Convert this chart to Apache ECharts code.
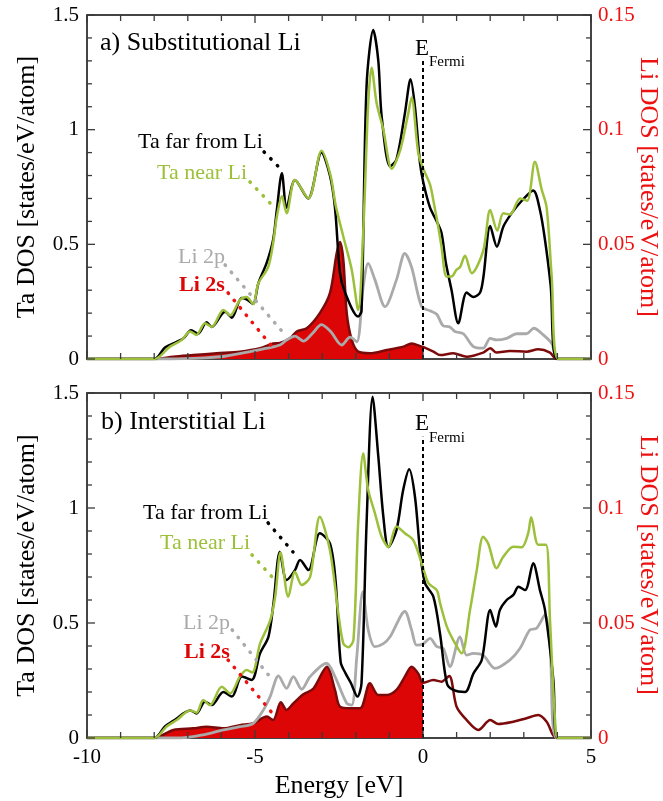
<!DOCTYPE html>
<html>
<head>
<meta charset="utf-8">
<title>Ta / Li density of states</title>
<script src="https://cdn.jsdelivr.net/npm/echarts@6/dist/echarts.min.js"></script>
<style>
  html, body { margin: 0; padding: 0; background: #fff; }
  #chart { width: 663px; height: 801px; background: #fff; }
</style>
</head>
<body>
<div id="chart"></div>
<script>
// ---- Energy axis and tick labels ----
const energyRange = [-10, 5];
const energyMinorStep = 1;
const taTicks = [0, 0.5, 1, 1.5];
const taMinorStep = 0.1;
const liTicks = [0, 0.05, 0.1, 0.15];
const fermiEnergy = 0;
const fermiTop = 1.31;

// ---- a) Substitutional Li : [energy (eV), DOS] ----
const subTaFar = [[-10,0],[-8,0],[-7.68,0.05],[-7.33,0.075],[-7.13,0.09],[-6.9,0.125],[-6.7,0.11],[-6.44,0.16],[-6.29,0.14],[-5.89,0.206],[-5.69,0.18],[-5.4,0.266],[-5.25,0.26],[-5.06,0.24],[-4.9,0.33],[-4.65,0.42],[-4.46,0.52],[-4.35,0.65],[-4.2,0.81],[-4.06,0.66],[-3.81,0.78],[-3.42,0.70],[-3.02,0.90],[-2.77,0.80],[-2.62,0.66],[-2.47,0.375],[-2.32,0.29],[-1.93,0.185],[-1.83,0.21],[-1.68,1.19],[-1.48,1.435],[-1.33,1.30],[-1.23,1.057],[-0.98,0.84],[-0.79,0.87],[-0.54,1.07],[-0.37,1.22],[-0.24,1.10],[-0.09,0.855],[0.01,0.77],[0.21,0.66],[0.41,0.60],[0.55,0.55],[0.68,0.42],[0.85,0.30],[1.05,0.156],[1.3,0.29],[1.5,0.27],[1.7,0.29],[1.8,0.36],[2.0,0.58],[2.2,0.49],[2.39,0.577],[2.64,0.636],[2.94,0.69],[3.28,0.735],[3.48,0.65],[3.63,0.52],[3.8,0.32],[4.0,0],[5,0]];
const subTaNear = [[-10,0],[-8,0],[-7.53,0.054],[-7.18,0.083],[-6.93,0.12],[-6.74,0.105],[-6.49,0.156],[-6.29,0.14],[-5.94,0.214],[-5.74,0.19],[-5.45,0.257],[-5.25,0.27],[-5.06,0.24],[-4.9,0.33],[-4.61,0.40],[-4.46,0.505],[-4.35,0.62],[-4.2,0.71],[-4.06,0.636],[-3.81,0.78],[-3.41,0.70],[-3.02,0.908],[-2.75,0.80],[-2.6,0.67],[-2.37,0.533],[-2.12,0.388],[-1.93,0.214],[-1.78,0.55],[-1.63,1.115],[-1.53,1.27],[-1.38,1.115],[-1.18,1.0],[-0.93,0.83],[-0.68,0.91],[-0.44,1.07],[-0.34,1.14],[-0.14,0.897],[0.01,0.83],[0.21,0.76],[0.31,0.69],[0.45,0.58],[0.55,0.49],[0.7,0.36],[0.85,0.36],[1.0,0.39],[1.1,0.40],[1.25,0.45],[1.45,0.374],[1.79,0.47],[2.0,0.65],[2.21,0.56],[2.39,0.635],[2.59,0.63],[2.89,0.70],[3.1,0.69],[3.33,0.86],[3.53,0.74],[3.68,0.66],[3.83,0.36],[4.03,0],[5,0]];
const subLi2p = [[-10,0],[-7.5,0],[-6.5,0.0005],[-5.9,0.0012],[-5.15,0.0032],[-4.65,0.0047],[-4.26,0.0061],[-4.06,0.0083],[-3.81,0.010],[-3.56,0.0078],[-3.3,0.011],[-3.02,0.015],[-2.75,0.012],[-2.42,0.0061],[-2.17,0.0095],[-1.97,0.0075],[-1.78,0.0315],[-1.63,0.0417],[-1.43,0.0345],[-1.13,0.0228],[-0.79,0.0345],[-0.54,0.046],[-0.34,0.040],[-0.04,0.0228],[0.21,0.021],[0.41,0.0195],[0.6,0.0145],[0.8,0.014],[0.95,0.012],[1.2,0.011],[1.5,0.0054],[1.79,0.0047],[2.0,0.009],[2.19,0.0083],[2.49,0.009],[2.79,0.011],[3.08,0.011],[3.30,0.0134],[3.58,0.0105],[3.83,0.0068],[4.03,0],[5,0]];
const subLi2s = [[-10,0],[-8,0],[-7.43,0.001],[-6.84,0.0017],[-6.14,0.0025],[-5.45,0.0032],[-4.85,0.0047],[-4.46,0.0068],[-4.26,0.0070],[-3.96,0.009],[-3.76,0.012],[-3.46,0.0134],[-3.07,0.020],[-2.77,0.0287],[-2.57,0.046],[-2.47,0.051],[-2.37,0.043],[-2.27,0.020],[-2.12,0.0083],[-1.93,0.0032],[-1.58,0.0025],[-1.08,0.0039],[-0.58,0.0054],[-0.34,0.0068],[-0.04,0.0054],[0,0.0053],[0.31,0.0032],[0.51,0.0017],[0.9,0.0025],[1.30,0.001],[1.79,0.0028],[2.0,0.0047],[2.19,0.0028],[2.59,0.0035],[3.08,0.0032],[3.43,0.0042],[3.78,0.0028],[3.98,0],[5,0]];

// ---- b) Interstitial Li : [energy (eV), DOS] ----
const intTaFar = [[-10,0],[-8,0],[-7.68,0.05],[-7.33,0.085],[-7.13,0.107],[-6.93,0.12],[-6.74,0.107],[-6.49,0.158],[-6.29,0.143],[-5.94,0.2],[-5.69,0.18],[-5.39,0.267],[-5.1,0.252],[-4.85,0.368],[-4.6,0.44],[-4.45,0.585],[-4.26,0.81],[-4.06,0.687],[-3.81,0.73],[-3.66,0.774],[-3.41,0.73],[-3.07,0.89],[-2.77,0.846],[-2.6,0.68],[-2.45,0.33],[-2.3,0.28],[-2.15,0.24],[-1.95,0.18],[-1.83,0.238],[-1.68,0.93],[-1.50,1.484],[-1.33,1.223],[-1.18,0.962],[-1.03,0.83],[-0.79,0.904],[-0.59,1.078],[-0.41,1.168],[-0.24,1.05],[-0.09,0.817],[0.06,0.673],[0.31,0.614],[0.51,0.45],[0.71,0.238],[0.9,0.209],[1.25,0.2],[1.5,0.28],[1.75,0.34],[2.0,0.557],[2.17,0.484],[2.29,0.557],[2.49,0.6],[2.69,0.622],[2.84,0.658],[3.04,0.643],[3.28,0.76],[3.48,0.643],[3.63,0.557],[3.88,0.252],[4.0,0],[5,0]];
const intTaNear = [[-10,0],[-8,0],[-7.63,0.05],[-7.33,0.078],[-6.93,0.12],[-6.74,0.11],[-6.54,0.165],[-6.34,0.143],[-5.99,0.223],[-5.74,0.194],[-5.45,0.267],[-5.25,0.296],[-5.08,0.285],[-4.85,0.41],[-4.55,0.51],[-4.40,0.614],[-4.24,0.806],[-4.01,0.614],[-3.81,0.723],[-3.61,0.665],[-3.36,0.70],[-3.07,0.962],[-2.77,0.817],[-2.52,0.542],[-2.37,0.41],[-2.22,0.395],[-2.07,0.426],[-1.93,0.933],[-1.78,1.237],[-1.63,1.078],[-1.43,0.977],[-1.23,0.875],[-1.03,0.83],[-0.79,0.92],[-0.54,0.89],[-0.29,0.86],[-0.04,0.76],[0.16,0.673],[0.41,0.643],[0.51,0.585],[0.71,0.484],[0.9,0.426],[1.15,0.368],[1.40,0.557],[1.60,0.73],[1.79,0.875],[1.94,0.846],[2.19,0.738],[2.39,0.788],[2.69,0.832],[2.94,0.829],[3.13,0.89],[3.22,0.96],[3.43,0.84],[3.66,0.84],[3.78,0.513],[3.93,0.078],[4.03,0],[5,0]];
const intLi2p = [[-10,0],[-7.2,0],[-6.5,0.0015],[-5.94,0.0035],[-5.45,0.0049],[-5.05,0.0064],[-4.75,0.0122],[-4.55,0.018],[-4.30,0.027],[-4.06,0.0216],[-3.86,0.0267],[-3.61,0.0212],[-3.36,0.0267],[-2.87,0.0325],[-2.62,0.0267],[-2.27,0.0151],[-2.12,0.0143],[-1.97,0.0354],[-1.79,0.0636],[-1.63,0.047],[-1.43,0.0397],[-1.18,0.041],[-0.98,0.044],[-0.54,0.055],[-0.34,0.047],[-0.19,0.0404],[0.01,0.041],[0.21,0.0433],[0.41,0.0397],[0.6,0.039],[0.8,0.031],[1.1,0.044],[1.3,0.036],[1.5,0.0368],[1.79,0.036],[2.14,0.0303],[2.59,0.034],[2.89,0.039],[3.18,0.047],[3.38,0.0477],[3.63,0.0535],[3.78,0.0397],[3.98,0],[5,0]];
const intLi2s = [[-10,0],[-8,0],[-7.43,0.0035],[-6.84,0.0042],[-6.44,0.0049],[-5.94,0.0042],[-5.45,0.0056],[-5.05,0.0064],[-4.65,0.0093],[-4.46,0.0078],[-4.23,0.0155],[-4.06,0.0122],[-3.86,0.015],[-3.56,0.019],[-3.26,0.0215],[-2.86,0.031],[-2.62,0.0209],[-2.47,0.0136],[-2.17,0.0129],[-1.87,0.0129],[-1.58,0.0238],[-1.33,0.0187],[-1.08,0.0187],[-0.79,0.0209],[-0.54,0.0267],[-0.34,0.031],[-0.14,0.028],[0,0.024],[0.31,0.0252],[0.55,0.0245],[0.78,0.027],[1.0,0.0136],[1.3,0.0078],[1.65,0.0035],[2.0,0.0078],[2.24,0.0061],[2.69,0.0071],[3.08,0.0086],[3.43,0.010],[3.68,0.0071],[3.98,0],[5,0]];

// ---- dotted leader lines from the labels to their curves ----
const subLeaders = {
  taFar:  [[-4.73,0.903],[-4.29,0.837]],
  taNear: [[-5.15,0.772],[-4.55,0.68]],
  li2p:   [[-5.89,0.41],[-4.05,0.096]],
  li2s:   [[-5.80,0.288],[-4.46,0.048]]
};
const intLeaders = {
  taFar:  [[-4.61,0.935],[-3.87,0.809]],
  taNear: [[-5.09,0.796],[-4.49,0.70]],
  li2p:   [[-5.68,0.47],[-4.55,0.265]],
  li2s:   [[-5.80,0.339],[-4.49,0.109]]
};

const FONT = '"Liberation Serif", "Times New Roman", serif';
const C_FAR = '#000000';
const C_NEAR = '#9cc03a';
const C_2P = '#aaaaaa';
const C_2S_LINE = '#7d0a0a';
const C_2S_FILL = '#dd0606';
const C_LI_AXIS = '#ee1111';
const AXIS_COLOR = '#3a3a3a';

const grids = [
  { left: 87, right: 72, top: 15, height: 344, outerBoundsMode: 'none',
    show: true, borderColor: AXIS_COLOR, borderWidth: 1.5, backgroundColor: 'transparent' },
  { left: 87, right: 72, top: 393, height: 345, outerBoundsMode: 'none',
    show: true, borderColor: AXIS_COLOR, borderWidth: 1.5, backgroundColor: 'transparent' }
];

function axisLineStyle() {
  return { show: true, onZero: false, lineStyle: { color: AXIS_COLOR, width: 1.5 } };
}

function xAxisPair(gridIndex, withLabels) {
  const bottom = {
    type: 'value', gridIndex: gridIndex, position: 'bottom',
    min: energyRange[0], max: energyRange[1], interval: 5,
    axisLine: axisLineStyle(), axisTick: { show: false },
    splitLine: { show: false },
    axisLabel: { show: withLabels, fontSize: 21, fontFamily: FONT, color: '#000', margin: 9 }
  };
  if (withLabels) {
    bottom.name = 'Energy [eV]';
    bottom.nameLocation = 'middle';
    bottom.nameGap = 35;
    bottom.nameTextStyle = { fontSize: 26, fontFamily: FONT, color: '#000' };
  }
  const top = {
    type: 'value', gridIndex: gridIndex, position: 'top',
    min: energyRange[0], max: energyRange[1], interval: 5,
    axisLine: axisLineStyle(), axisTick: { show: false },
    splitLine: { show: false },
    axisLabel: { show: false }
  };
  return [bottom, top];
}

function yAxisPair(gridIndex) {
  const left = {
    type: 'value', gridIndex: gridIndex, position: 'left',
    min: taTicks[0], max: taTicks[taTicks.length - 1], interval: taTicks[1] - taTicks[0],
    name: 'Ta DOS [states/eV/atom]', nameLocation: 'middle', nameGap: 47,
    nameTextStyle: { fontSize: 26, fontFamily: FONT, color: '#000' },
    axisLine: axisLineStyle(), axisTick: { show: false },
    splitLine: { show: false },
    axisLabel: { fontSize: 21, fontFamily: FONT, color: '#000', margin: 8 }
  };
  const right = {
    type: 'value', gridIndex: gridIndex, position: 'right',
    min: liTicks[0], max: liTicks[liTicks.length - 1], interval: liTicks[1] - liTicks[0],
    axisLine: axisLineStyle(), axisTick: { show: false },
    splitLine: { show: false },
    axisLabel: { fontSize: 21, fontFamily: FONT, color: C_LI_AXIS, margin: 7,
      formatter: v => String(Math.round(v * 100) / 100) }
  };
  return [left, right];
}

// Inward tick marks on all four sides of a panel, placed through the axes' own scales.
function tickData() {
  const out = [];
  const nE = Math.round((energyRange[1] - energyRange[0]) / energyMinorStep);
  for (let i = 0; i <= nE; i++) out.push([energyRange[0] + i * energyMinorStep, 0, 0]);
  const top = taTicks[taTicks.length - 1];
  const nT = Math.round(top / taMinorStep);
  for (let k = 0; k <= nT; k++) out.push([energyRange[0], Math.round(k * taMinorStep * 100) / 100, 1]);
  return out;
}

function tickSeries(p) {
  return {
    type: 'custom', xAxisIndex: 2 * p, yAxisIndex: 2 * p, silent: true, clip: false, z: 10,
    data: tickData(),
    renderItem: function (params, api) {
      const cs = params.coordSys;
      const pt = api.coord([api.value(0), api.value(1)]);
      const segs = [];
      if (api.value(2) === 0) {
        const e = api.value(0);
        const len = Math.abs(e / 5 - Math.round(e / 5)) < 1e-6 ? 8 : 6;
        const x = pt[0];
        segs.push([x, cs.y + cs.height, x, cs.y + cs.height - len]);
        segs.push([x, cs.y, x, cs.y + len]);
      } else {
        const v = api.value(1);
        const len = Math.abs(v * 2 - Math.round(v * 2)) < 1e-6 ? 8 : 5;
        const y = pt[1];
        segs.push([cs.x, y, cs.x + len, y]);
        segs.push([cs.x + cs.width, y, cs.x + cs.width - len, y]);
      }
      return {
        type: 'group',
        children: segs.map(s => ({
          type: 'line',
          shape: { x1: s[0], y1: s[1], x2: s[2], y2: s[3] },
          style: { stroke: AXIS_COLOR, lineWidth: 1.3 }
        }))
      };
    }
  };
}

function curve(data, xi, yi, color, width) {
  return {
    type: 'line', xAxisIndex: xi, yAxisIndex: yi, data: data,
    smooth: 0.3, showSymbol: false, symbol: 'none',
    lineStyle: { color: color, width: width }
  };
}

function leader(data, xi, yi, color) {
  return {
    type: 'line', xAxisIndex: xi, yAxisIndex: yi, data: data,
    showSymbol: false, symbol: 'none',
    lineStyle: { color: color, width: 3.5, type: [0.5, 9], cap: 'round' }
  };
}

function panelSeries(p, taFar, taNear, li2p, li2s, leaders) {
  const xi = 2 * p, yTa = 2 * p, yLi = 2 * p + 1;
  return [
    // Li 2s occupied part is filled up to the Fermi level
    {
      type: 'line', xAxisIndex: xi, yAxisIndex: yLi,
      data: li2s.filter(d => d[0] <= fermiEnergy),
      smooth: 0.3, showSymbol: false, symbol: 'none',
      lineStyle: { width: 0 },
      areaStyle: { color: C_2S_FILL, opacity: 1 }
    },
    curve(li2s, xi, yLi, C_2S_LINE, 2.5),
    curve(li2p, xi, yLi, C_2P, 2.8),
    curve(taFar, xi, yTa, C_FAR, 2.5),
    curve(taNear, xi, yTa, C_NEAR, 2.5),
    // Fermi level
    {
      type: 'line', xAxisIndex: xi, yAxisIndex: yTa,
      data: [[fermiEnergy, 0], [fermiEnergy, fermiTop]],
      showSymbol: false, symbol: 'none',
      lineStyle: { color: '#000', width: 2, type: [4, 3] }
    },
    leader(leaders.taFar, xi, yTa, C_FAR),
    leader(leaders.taNear, xi, yTa, C_NEAR),
    leader(leaders.li2p, xi, yTa, C_2P),
    leader(leaders.li2s, xi, yTa, '#ee1111'),
    tickSeries(p)
  ];
}

function label(text, x, y, size, color, weight) {
  return {
    type: 'text', x: x, y: y, silent: true,
    style: { text: text, fontSize: size, fontFamily: FONT, fontWeight: weight || 'normal',
             fill: color, verticalAlign: 'middle', align: 'left' }
  };
}

// Right-hand axis title, reading top to bottom, centred on a panel
function liTitle(cy) {
  return {
    type: 'text', x: 648, y: cy, rotation: -Math.PI / 2, silent: true,
    style: { text: 'Li DOS [states/eV/atom]', fontSize: 26, fontFamily: FONT,
             fill: C_LI_AXIS, align: 'center', verticalAlign: 'middle' }
  };
}

const graphics = [
  label('a) Substitutional Li', 100, 43, 26, '#000'),
  label('Ta far from Li', 138, 142, 22, C_FAR),
  label('Ta near Li', 157, 173, 22, C_NEAR),
  label('Li 2p', 178, 257, 22, C_2P),
  label('Li 2s', 179, 285, 22, '#dd0606', 'bold'),
  label('E', 415, 49, 23, '#000'),
  label('Fermi', 429, 62, 15, '#000'),
  liTitle(187),

  label('b) Interstitial Li', 101, 422, 26, '#000'),
  label('Ta far from Li', 143, 513, 22, C_FAR),
  label('Ta near Li', 160, 543, 22, C_NEAR),
  label('Li 2p', 183, 623, 22, C_2P),
  label('Li 2s', 184, 652, 22, '#dd0606', 'bold'),
  label('E', 415, 424, 23, '#000'),
  label('Fermi', 429, 438, 15, '#000'),
  liTitle(565)
];

const chart = echarts.init(document.getElementById('chart'));
chart.setOption({
  animation: false,
  grid: grids,
  xAxis: [].concat(xAxisPair(0, false), xAxisPair(1, true)),
  yAxis: [].concat(yAxisPair(0), yAxisPair(1)),
  series: [].concat(
    panelSeries(0, subTaFar, subTaNear, subLi2p, subLi2s, subLeaders),
    panelSeries(1, intTaFar, intTaNear, intLi2p, intLi2s, intLeaders)
  ),
  graphic: graphics
});
</script>
</body>
</html>
